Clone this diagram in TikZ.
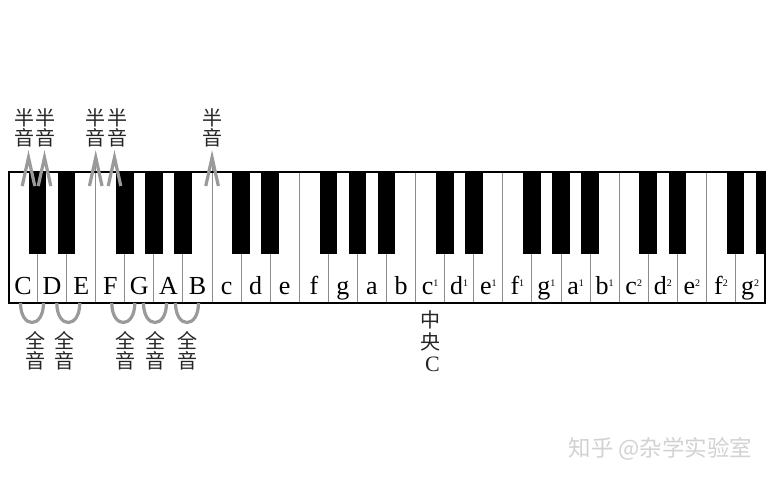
\documentclass[tikz,border=0pt]{standalone}
\usepackage{fontspec}
\setmainfont{Liberation Serif}
\newfontfamily\cjk{Noto Sans CJK SC}
\definecolor{divgray}{HTML}{8C8C8C}
\definecolor{markgray}{HTML}{9A9A9A}
\definecolor{wmgray}{HTML}{D2D2D2}
\newcommand\su[1]{\raisebox{8pt}{\fontsize{10}{10}\selectfont #1}}
\tikzset{
  divider/.style={draw=divgray, line width=1pt},
  blackkey/.style={fill=black},
  frame/.style={draw=black, line width=2pt},
  halfmark/.style={draw=markgray, line width=3.2pt, line join=miter},
  wholemark/.style={draw=markgray, line width=3.2pt},
  keylab/.style={anchor=base, inner sep=0pt, font=\fontsize{26}{26}\selectfont},
  cjklab/.style={align=center, inner sep=0pt, text=black!85, font=\cjk\fontsize{20}{20.5}\selectfont},
  watermark/.style={inner sep=0pt, text=wmgray, font=\cjk\fontsize{22.5}{22.5}\selectfont}
}
\begin{document}
\begin{tikzpicture}[x=1pt,y=-1pt]
\useasboundingbox (0,0) rectangle (775,480);
\fill[white] (0,0) rectangle (775,480);
\def\kl{8.5}
\def\kw{29.08}
\def\kt{172}
\def\kb{302.5}
\def\bb{254}
\def\bw{17.6}
\def\kr{764.6}
% white key dividers
\foreach \k in {1,...,25}
  \draw[divider] ({\kl+\k*\kw},\kt) -- ({\kl+\k*\kw},\kb);
% extended dividers to the half-step marks
\draw[divider] ({\kl+3*\kw},157.5) -- ({\kl+3*\kw},\kt);
\draw[divider] ({\kl+7*\kw},157.5) -- ({\kl+7*\kw},\kt);
% black keys
\foreach \k in {1,2,4,5,6,8,9,11,12,13,15,16,18,19,20,22,23,25}
  \fill[blackkey] ({\kl+\k*\kw-\bw/2},\kt) rectangle ({\kl+\k*\kw+\bw/2},\bb);
\fill[blackkey] ({\kl+26*\kw-\bw/2},\kt) rectangle (\kr,\bb);
% frame
\draw[frame] (\kl,\kt) rectangle (\kr,\kb);
% key labels
\foreach \t [count=\i from 0] in {C,D,E,F,G,A,B,c,d,e,f,g,a,b,{c\su{1}},{d\su{1}},{e\su{1}},{f\su{1}},{g\su{1}},{a\su{1}},{b\su{1}},{c\su{2}},{d\su{2}},{e\su{2}},{f\su{2}},{g\su{2}}}
  \node[keylab] (k\i) at ({\kl+(\i+0.5)*\kw},294) {\t};
% half-step marks
\foreach \x in {28.5,44.5,95.74,114.5,212.06}
  \draw[halfmark] ({\x-6.3},186) -- (\x,157.5) -- ({\x+6.3},186);
\node[cjklab] (h1) at (24,128) {半\\音};
\node[cjklab] (h2) at (45.5,128) {半\\音};
\node[cjklab] (h3) at (95,128) {半\\音};
\node[cjklab] (h4) at (117,128) {半\\音};
\node[cjklab] (h5) at (212.5,128) {半\\音};
% whole-step marks
\foreach \c in {32,68.3,123.3,155,187}
  \draw[wholemark] ({\c-11.5},303) .. controls ({\c-11.5},329) and ({\c+11.5},329) .. ({\c+11.5},303);
\node[cjklab] (w1) at (35,351) {全\\音};
\node[cjklab] (w2) at (64,351) {全\\音};
\node[cjklab] (w3) at (125,351) {全\\音};
\node[cjklab] (w4) at (155,351) {全\\音};
\node[cjklab] (w5) at (187,351) {全\\音};
% middle C
\node[cjklab] (m1) at (430,320) {中};
\node[cjklab] (m2) at (430,342) {央};
\node[inner sep=0pt, text=black!85, font=\fontsize{22}{22}\selectfont] (m3) at (432.5,364.5) {C};
% watermark
\node[watermark] (wm) at (660.5,449) {知乎 @杂学实验室};
\end{tikzpicture}
\end{document}
